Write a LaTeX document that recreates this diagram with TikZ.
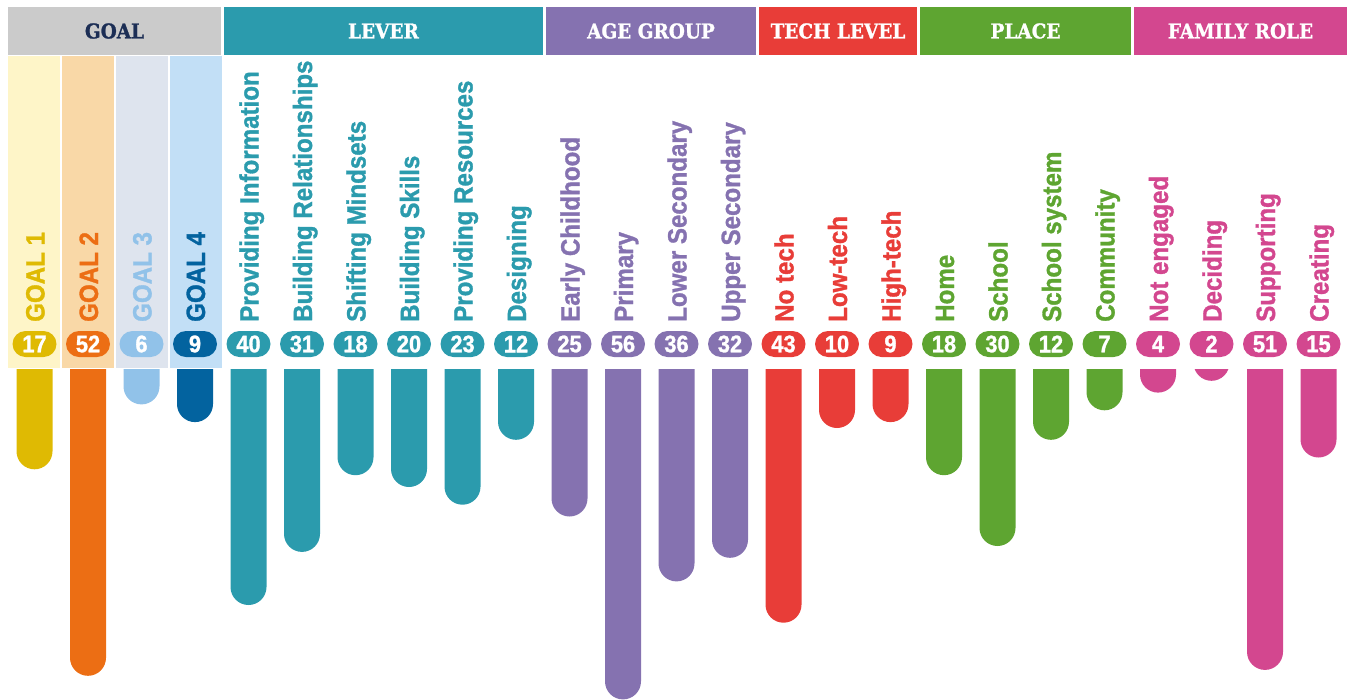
\documentclass[tikz,border=0pt]{standalone}
\usepackage{fontspec}
\setmainfont{Liberation Sans}
\newfontfamily\lblfont{Liberation Sans}[FakeStretch=0.91,FakeBold=1.2]
\newfontfamily\hdrfont{DejaVu Serif}[FakeStretch=0.9,FakeBold=1]
\definecolor{hgray}{HTML}{CBCBCB}
\definecolor{navy}{HTML}{1C2E55}
\definecolor{goalA}{HTML}{DFBA03}
\definecolor{goalB}{HTML}{EC6E14}
\definecolor{goalC}{HTML}{91C2E9}
\definecolor{goalD}{HTML}{03639F}
\definecolor{goalAbg}{HTML}{FEF5C8}
\definecolor{goalBbg}{HTML}{F9D8A7}
\definecolor{goalCbg}{HTML}{DEE4EE}
\definecolor{goalDbg}{HTML}{C2DFF6}
\definecolor{lever}{HTML}{2B9BAD}
\definecolor{agegrp}{HTML}{8572B0}
\definecolor{tech}{HTML}{E83D38}
\definecolor{place}{HTML}{5EA531}
\definecolor{famrole}{HTML}{D3478F}

\begin{document}
\begin{tikzpicture}[x=1pt,y=-1pt,
    hdr/.style={minimum height=48pt,inner sep=0,text=white,font={\hdrfont\bfseries\fontsize{20.5}{20.5}\selectfont}},
    lbl/.style={rotate=90,anchor=base west,inner sep=0,font={\lblfont\bfseries\fontsize{26.5}{26.5}\selectfont}},
    pill/.style={rounded corners=13pt,minimum width=44pt,minimum height=26pt,inner sep=0,text=white,font={\lblfont\bfseries\fontsize{24}{24}\selectfont}}]
  \useasboundingbox (0,0) rectangle (1349,699);
  % header
  \node[hdr,fill=hgray,text=navy,minimum width=213pt] (h_goal) at (114.5,31) {GOAL};
  \node[hdr,fill=lever,minimum width=319pt] (h_lever) at (383.5,31) {LEVER};
  \node[hdr,fill=agegrp,minimum width=210pt] (h_age) at (651,31) {AGE GROUP};
  \node[hdr,fill=tech,minimum width=158pt] (h_tech) at (838,31) {TECH LEVEL};
  \node[hdr,fill=place,minimum width=211pt] (h_place) at (1025.5,31) {PLACE};
  \node[hdr,fill=famrole,minimum width=213pt] (h_family) at (1240.5,31) {FAMILY ROLE};
  % goal backgrounds
  \foreach \i/\bg in {0/goalAbg,1/goalBbg,2/goalCbg,3/goalDbg}
    \fill[\bg] (8+54*\i,56) rectangle +(52,312);
  % columns
  \foreach \i/\txt/\val/\col in {0/GOAL 1/17/goalA, 1/GOAL 2/52/goalB, 2/GOAL 3/6/goalC, 3/GOAL 4/9/goalD,
      4/Providing Information/40/lever, 5/Building Relationships/31/lever, 6/Shifting Mindsets/18/lever,
      7/Building Skills/20/lever, 8/Providing Resources/23/lever, 9/Designing/12/lever,
      10/Early Childhood/25/agegrp, 11/Primary/56/agegrp, 12/Lower Secondary/36/agegrp, 13/Upper Secondary/32/agegrp,
      14/No tech/43/tech, 15/Low-tech/10/tech, 16/High-tech/9/tech,
      17/Home/18/place, 18/School/30/place, 19/School system/12/place, 20/Community/7/place,
      21/Not engaged/4/famrole, 22/Deciding/2/famrole, 23/Supporting/51/famrole, 24/Creating/15/famrole}
  {
    \pgfmathsetmacro\x{34.5+53.5*\i}
    \node[lbl,text=\col] (lab_\i) at (\x+10,322) {\txt};
    \node[pill,fill=\col] (num_\i) at (\x,344) {\val};
    \begin{scope}
      \clip (0,369) rectangle (1349,699);
      \fill[\col,rounded corners=18pt] (\x-18,329) rectangle (\x+18,369+5.9*\val);
    \end{scope}
  }
\end{tikzpicture}
\end{document}
